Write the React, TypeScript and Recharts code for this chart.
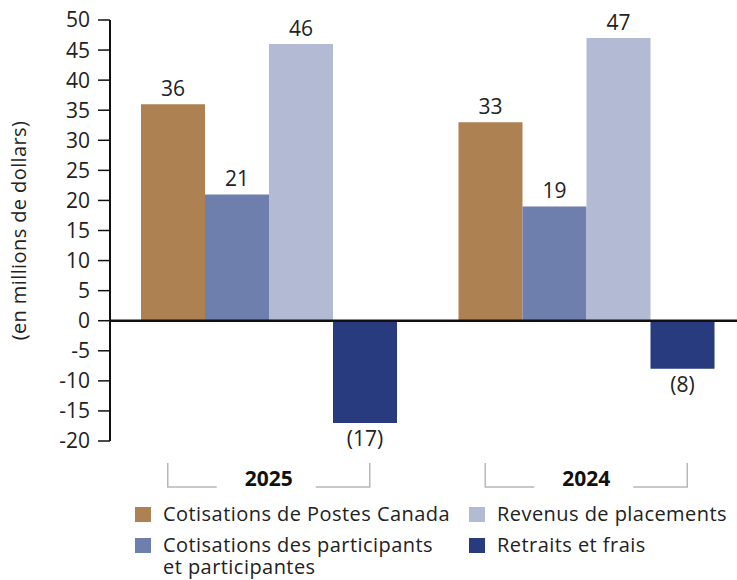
import React from 'react';
import {
  BarChart, Bar, XAxis, YAxis, ReferenceLine, LabelList, Legend,
} from 'recharts';

// 年度（カテゴリ）
const categories = ['2025', '2024'];

// 各系列の値（百万ドル）
const postesCanada = [36, 33];
const participants = [21, 19];
const placements = [46, 47];
const retraits = [-17, -8];

// Y軸の目盛り
const yTicks = [-20, -15, -10, -5, 0, 5, 10, 15, 20, 25, 30, 35, 40, 45, 50];

// 系列の名前と色
const series = [
  { key: 'postes', name: 'Cotisations de Postes Canada', color: '#ad8152' },
  { key: 'participants', name: 'Cotisations des participants\net participantes', color: '#6e7fad' },
  { key: 'placements', name: 'Revenus de placements', color: '#b2bad4' },
  { key: 'retraits', name: 'Retraits et frais', color: '#283b7e' },
];

const data = categories.map((c, i) => ({
  annee: c,
  postes: postesCanada[i],
  participants: participants[i],
  placements: placements[i],
  retraits: retraits[i],
}));

const FONT = '"Open Sans", sans-serif';

// 負の値は括弧で表示
const fmt = (v: any) => (Number(v) < 0 ? `(${Math.abs(Number(v))})` : `${v}`);

// X軸の年ラベル（両側に括弧線）
const YearTick = (props: any) => {
  const { x, y, payload } = props;
  const top = y + 22;
  const base = y + 46;
  return (
    <g>
      <path
        d={`M${x - 101},${top} V${base} H${x - 52} M${x + 47},${base} H${x + 101} V${top}`}
        stroke="#b8b8b8"
        strokeWidth={1.5}
        fill="none"
      />
      <text x={x} y={y + 45} textAnchor="middle" fontFamily={FONT} fontWeight={700} fontSize={21} fill="#111">
        {payload.value}
      </text>
    </g>
  );
};

// 凡例（2列）
const renderLegend = () => {
  const cols = [135, 469];
  const rows = [0, 31];
  const order = [0, 2, 1, 3];
  return (
    <div style={{ position: 'relative', width: 737, height: 74, fontFamily: FONT, fontSize: 20, letterSpacing: 0.45, color: '#222' }}>
      {order.map((idx, n) => {
        const s = series[idx];
        const left = cols[n % 2];
        const top = rows[Math.floor(n / 2)];
        return (
          <div key={s.key} style={{ position: 'absolute', left, top, display: 'flex', alignItems: 'flex-start' }}>
            <span style={{ width: 16, height: 15, background: s.color, marginTop: 3, marginRight: 12, flex: 'none' }} />
            <span style={{ whiteSpace: 'pre-line', lineHeight: '22px', marginTop: -1 }}>{s.name}</span>
          </div>
        );
      })}
    </div>
  );
};

export default function App() {
  return (
    <div style={{ position: 'absolute', left: 0, top: 0, width: 737, height: 580, overflow: 'hidden', background: '#fff' }}>
      <BarChart
        width={745}
        height={580}
        data={data}
        margin={{ top: 20, right: 0, bottom: 0, left: 0 }}
        barGap={0}
      >
        <XAxis
          dataKey="annee"
          height={139}
          axisLine={false}
          tickLine={false}
          tickSize={0}
          tickMargin={0}
          tick={<YearTick />}
          interval={0}
        />
        <YAxis
          width={110}
          domain={[-20, 50]}
          ticks={yTicks}
          interval={0}
          axisLine={{ stroke: '#111', strokeWidth: 2 }}
          tickLine={{ stroke: '#111', strokeWidth: 1.5 }}
          tickSize={12}
          tickMargin={8}
          tick={{ fontFamily: FONT, fontSize: 21, fill: '#222' }}
          label={{
            value: '(en millions de dollars)',
            angle: -90,
            position: 'insideLeft',
            offset: 19,
            style: { textAnchor: 'middle', fontFamily: FONT, fontSize: 20, letterSpacing: 0.4, fill: '#222' },
          }}
        />
        <ReferenceLine y={0} stroke="#111" strokeWidth={2.5} />
        {series.map((s) => (
          <Bar key={s.key} dataKey={s.key} name={s.name} fill={s.color} barSize={64} isAnimationActive={false}>
            <LabelList
              dataKey={s.key}
              position="top"
              offset={8}
              formatter={fmt}
              style={{ fontFamily: FONT, fontSize: 21, fill: '#222' }}
            />
          </Bar>
        ))}
        <Legend
          layout="horizontal"
          verticalAlign="middle"
          align="center"
          content={renderLegend}
          wrapperStyle={{ top: 504, left: 0, width: 737, height: 74 }}
        />
      </BarChart>
    </div>
  );
}
